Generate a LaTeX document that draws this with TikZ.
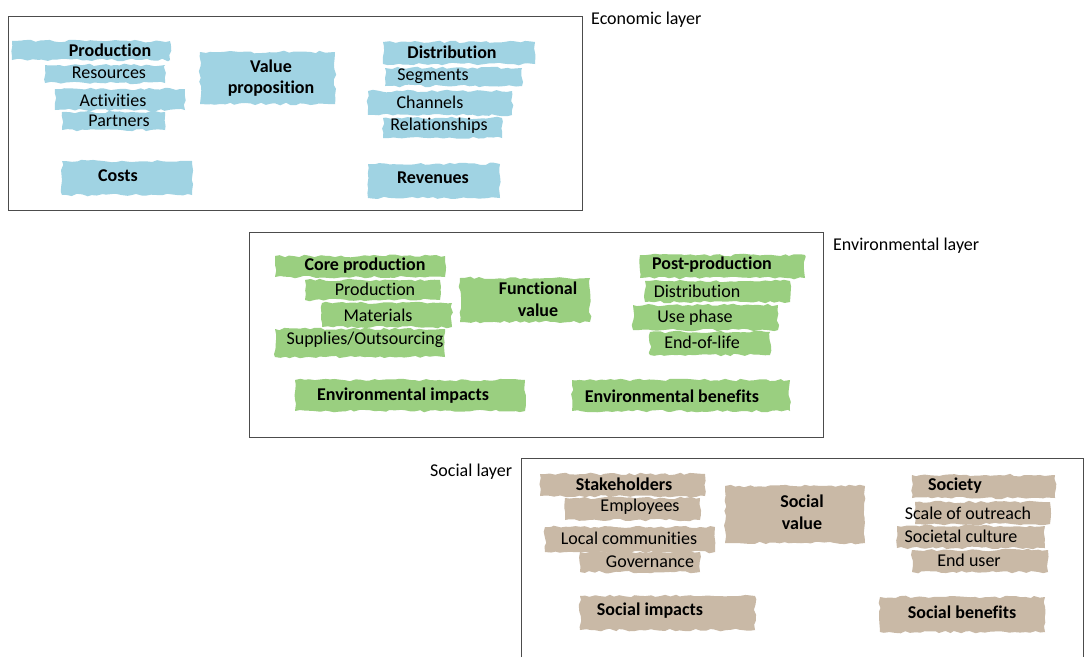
\documentclass[tikz,border=0pt]{standalone}
\usepackage{fontspec}
\setmainfont{Carlito}[Ligatures=NoCommon]
\usetikzlibrary{positioning,decorations.pathmorphing}

\definecolor{econblue}{RGB}{160,211,227}
\definecolor{envgreen}{RGB}{154,207,128}
\definecolor{socbrown}{RGB}{201,185,166}

\tikzset{
  brush/.style={decorate,decoration={random steps,segment length=5pt,amplitude=1.3pt}},
  econ/.style={brush,fill=econblue},
  envi/.style={brush,fill=envgreen},
  soci/.style={brush,fill=socbrown},
  layer/.style={draw=black!70,line width=0.9pt},
  item/.style={inner sep=0pt,font=\fontsize{18}{21.5}\selectfont},
  head/.style={item,font=\fontsize{18}{21.5}\selectfont\bfseries,align=center},
  tag/.style={item,anchor=west}
}

\begin{document}
\begin{tikzpicture}[x=1pt,y=-1pt]
\pgfmathsetseed{7}
\useasboundingbox[fill=white] (0,0) rectangle (1084,657);

% economic layer
\draw[layer] (8,16) rectangle (582,210);
\node[tag] (econlbl) at (591,20) {Economic layer};
\fill[econ] (12,41) rectangle (170,60);
\fill[econ] (45,65) rectangle (165,83);
\fill[econ] (200,52) rectangle (335,104);
\fill[econ] (55,89) rectangle (185,110);
\fill[econ] (62,112) rectangle (165,130);
\fill[econ] (383,42) rectangle (535,64);
\fill[econ] (385,68) rectangle (522,86);
\fill[econ] (368,91) rectangle (512,115);
\fill[econ] (383,118) rectangle (502,138);
\fill[econ] (62,161) rectangle (192,195);
\fill[econ] (368,164) rectangle (500,198);
\node[head] (prod) at (110,50) {Production};
\node[item] (res) at (109,73) {Resources};
\node[item] (act) at (113,100) {Activities};
\node[item] (part) at (119,121) {Partners};
\node[head] (valprop) at (271,78) {Value\\proposition};
\node[head] (distr) at (452,52) {Distribution};
\node[item] (segm) at (433,76) {Segments};
\node[item] (chan) at (430,102) {Channels};
\node[item] (relat) at (439,126) {Relationships};
\node[head] (costs) at (118,176) {Costs};
\node[head] (reven) at (433,178) {Revenues};

% environmental layer
\draw[layer] (249,232) rectangle (823,437);
\node[tag] (envlbl) at (833,246) {Environmental layer};
\fill[envi] (275,256) rectangle (445,277);
\fill[envi] (305,280) rectangle (440,300);
\fill[envi] (322,303) rectangle (452,327);
\fill[envi] (275,329) rectangle (445,357);
\fill[envi] (460,278) rectangle (590,322);
\fill[envi] (640,255) rectangle (805,278);
\fill[envi] (645,281) rectangle (790,302);
\fill[envi] (633,305) rectangle (778,330);
\fill[envi] (650,332) rectangle (770,355);
\fill[envi] (295,380) rectangle (525,411);
\fill[envi] (572,380) rectangle (790,411);
\node[head] (corep) at (365,266) {Core production};
\node[item] (eprod) at (375,289) {Production};
\node[item] (mater) at (378,315) {Materials};
\node[item] (suppl) at (365,340) {Supplies/Outsourcing};
\node[head] (funcval) at (538,299) {Functional\\value};
\node[head] (postp) at (712,265) {Post-production};
\node[item] (edistr) at (697,291) {Distribution};
\node[item] (usep) at (695,318) {Use phase};
\node[item] (eol) at (702,342) {End-of-life};
\node[head] (envimp) at (403,396) {Environmental impacts};
\node[head] (envben) at (672,396) {Environmental benefits};

% social layer
\draw[layer] (521,657) -- (521,458) -- (1083,458) -- (1083,657);
\node[tag] (soclbl) at (430,472) {Social layer};
\fill[soci] (540,474) rectangle (705,496);
\fill[soci] (565,498) rectangle (700,520);
\fill[soci] (545,527) rectangle (715,552);
\fill[soci] (580,552) rectangle (700,572);
\fill[soci] (725,486) rectangle (865,543);
\fill[soci] (912,475) rectangle (1055,498);
\fill[soci] (915,502) rectangle (1050,524);
\fill[soci] (897,526) rectangle (1045,548);
\fill[soci] (912,550) rectangle (1048,572);
\fill[soci] (580,596) rectangle (755,630);
\fill[soci] (880,597) rectangle (1045,632);
\node[head] (stake) at (624,484) {Stakeholders};
\node[item] (empl) at (640,507) {Employees};
\node[item] (locc) at (629,538) {Local communities};
\node[item] (gov) at (650,562) {Governance};
\node[head] (socval) at (802,512) {Social\\value};
\node[head] (soc) at (955,486) {Society};
\node[item] (scale) at (968,513) {Scale of outreach};
\node[item] (cult) at (961,536) {Societal culture};
\node[item] (euser) at (969,560) {End user};
\node[head] (socimp) at (650,611) {Social impacts};
\node[head] (socben) at (962,612) {Social benefits};
\end{tikzpicture}
\end{document}
